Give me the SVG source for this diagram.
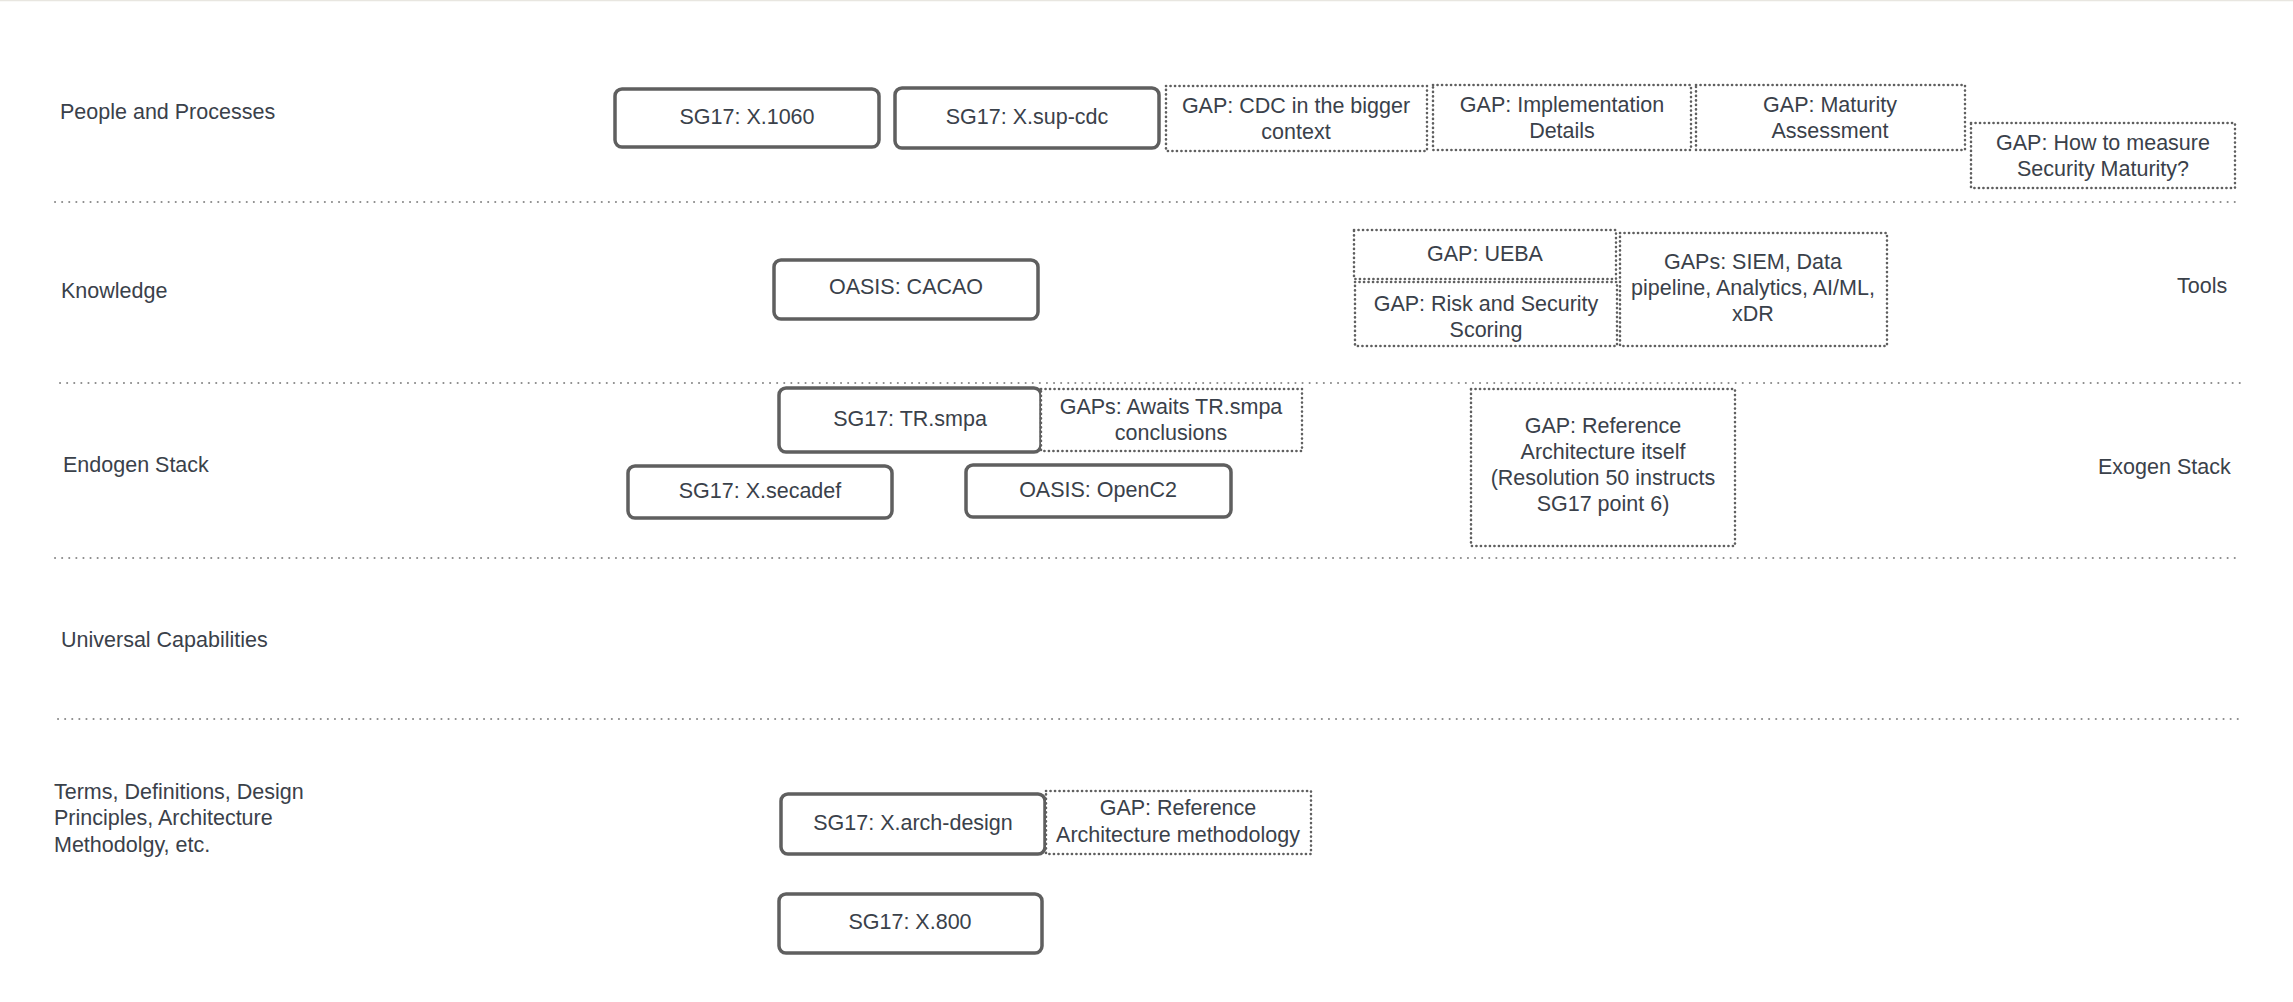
<svg xmlns="http://www.w3.org/2000/svg" width="2293" height="1002" viewBox="0 0 2293 1002">
<style>
text{font-family:"Liberation Sans",Arial,sans-serif;font-size:21.5px;fill:#3a414a}
.c{text-anchor:middle;dominant-baseline:central}
.l{dominant-baseline:central}
.std{fill:#fff;stroke:#5f5f5f;stroke-width:3.5}
.gap{fill:#fff;stroke:#5f5f5f;stroke-width:2.6;stroke-dasharray:0.1 4.4;stroke-linecap:round}
.sep{stroke:#8a8a8a;stroke-width:2;stroke-dasharray:0.1 7;stroke-linecap:round;fill:none}
</style>
<rect x="0" y="0" width="2293" height="1002" fill="#fff"/>
<line x1="0" y1="0.5" x2="2293" y2="0.5" stroke="#e8e6e0" stroke-width="1.5"/>
<g id="separators">
<line class="sep" x1="55" y1="202" x2="2238" y2="202"/>
<line class="sep" x1="60" y1="383" x2="2240" y2="383"/>
<line class="sep" x1="55" y1="558" x2="2238" y2="558"/>
<line class="sep" x1="58" y1="719" x2="2238" y2="719"/>
</g>
<g id="lane-labels">
<text class="l" x="60" y="112">People and Processes</text>
<text class="l" x="61" y="291">Knowledge</text>
<text class="l" x="63" y="465">Endogen Stack</text>
<text class="l" x="61" y="640">Universal Capabilities</text>
<text class="l" x="54" y="792">Terms, Definitions, Design</text>
<text class="l" x="54" y="818">Principles, Architecture</text>
<text class="l" x="54" y="845">Methodolgy, etc.</text>
<text class="l" x="2177" y="286">Tools</text>
<text class="l" x="2098" y="467">Exogen Stack</text>
</g>
<g id="connectors"></g>
<g id="n-x1060">
<rect class="std" x="615" y="89" width="264" height="58" rx="7"/>
<text class="c" x="747" y="117">SG17: X.1060</text>
</g>
<g id="n-xsupcdc">
<rect class="std" x="895" y="88" width="264" height="60" rx="7"/>
<text class="c" x="1027" y="117">SG17: X.sup-cdc</text>
</g>
<g id="n-gap-cdc">
<rect class="gap" x="1166" y="86" width="261" height="65"/>
<text class="c" x="1296" y="106">GAP: CDC in the bigger</text>
<text class="c" x="1296" y="132">context</text>
</g>
<g id="n-gap-impl">
<rect class="gap" x="1433" y="85" width="258" height="65"/>
<text class="c" x="1562" y="105">GAP: Implementation</text>
<text class="c" x="1562" y="131">Details</text>
</g>
<g id="n-gap-maturity">
<rect class="gap" x="1696" y="85" width="269" height="65"/>
<text class="c" x="1830" y="105">GAP: Maturity</text>
<text class="c" x="1830" y="131">Assessment</text>
</g>
<g id="n-gap-measure">
<rect class="gap" x="1971" y="123" width="264" height="65"/>
<text class="c" x="2103" y="143">GAP: How to measure</text>
<text class="c" x="2103" y="169">Security Maturity?</text>
</g>
<g id="n-cacao">
<rect class="std" x="774" y="260" width="264" height="59" rx="7"/>
<text class="c" x="906" y="287">OASIS: CACAO</text>
</g>
<g id="n-gap-ueba">
<rect class="gap" x="1354" y="230" width="262" height="49"/>
<text class="c" x="1485" y="254">GAP: UEBA</text>
</g>
<g id="n-gap-risk">
<rect class="gap" x="1355" y="282" width="262" height="64"/>
<text class="c" x="1486" y="304">GAP: Risk and Security</text>
<text class="c" x="1486" y="330">Scoring</text>
</g>
<g id="n-gap-siem">
<rect class="gap" x="1620" y="233" width="267" height="113"/>
<text class="c" x="1753" y="262">GAPs: SIEM, Data</text>
<text class="c" x="1753" y="288">pipeline, Analytics, AI/ML,</text>
<text class="c" x="1753" y="314">xDR</text>
</g>
<g id="n-trsmpa">
<rect class="std" x="779" y="388" width="262" height="64" rx="7"/>
<text class="c" x="910" y="419">SG17: TR.smpa</text>
</g>
<g id="n-gap-awaits">
<rect class="gap" x="1041" y="389" width="261" height="62"/>
<text class="c" x="1171" y="407">GAPs: Awaits TR.smpa</text>
<text class="c" x="1171" y="433">conclusions</text>
</g>
<g id="n-secadef">
<rect class="std" x="628" y="466" width="264" height="52" rx="7"/>
<text class="c" x="760" y="491">SG17: X.secadef</text>
</g>
<g id="n-openc2">
<rect class="std" x="966" y="465" width="265" height="52" rx="7"/>
<text class="c" x="1098" y="490">OASIS: OpenC2</text>
</g>
<g id="n-gap-refarch">
<rect class="gap" x="1471" y="389" width="264" height="157"/>
<text class="c" x="1603" y="426">GAP: Reference</text>
<text class="c" x="1603" y="452">Architecture itself</text>
<text class="c" x="1603" y="478">(Resolution 50 instructs</text>
<text class="c" x="1603" y="504">SG17 point 6)</text>
</g>
<g id="n-archdesign">
<rect class="std" x="781" y="794" width="264" height="60" rx="7"/>
<text class="c" x="913" y="823">SG17: X.arch-design</text>
</g>
<g id="n-gap-refmethod">
<rect class="gap" x="1046" y="791" width="265" height="63"/>
<text class="c" x="1178" y="808">GAP: Reference</text>
<text class="c" x="1178" y="835">Architecture methodology</text>
</g>
<g id="n-x800">
<rect class="std" x="779" y="894" width="263" height="59" rx="7"/>
<text class="c" x="910" y="922">SG17: X.800</text>
</g>
</svg>
